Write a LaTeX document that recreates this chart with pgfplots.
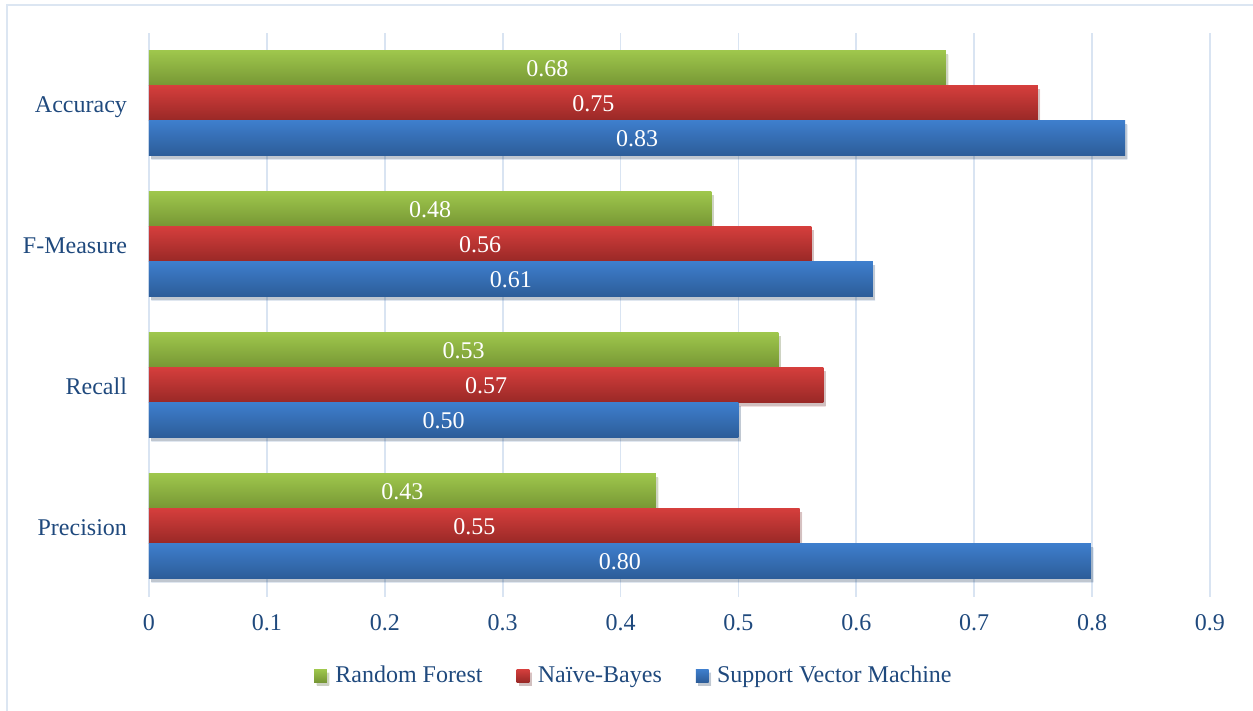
\documentclass[border=0pt]{standalone}
\usepackage{fontspec}
\setmainfont{Liberation Serif}
\usepackage{pgfplots}
\pgfplotsset{compat=1.18}
\usetikzlibrary{shadows}

\definecolor{txt}{RGB}{31,73,125}
\definecolor{gridc}{RGB}{217,228,242}
\definecolor{frame}{RGB}{220,230,242}
\definecolor{rfTop}{RGB}{158,198,76}
\definecolor{rfBot}{RGB}{118,150,52}
\definecolor{nbTop}{RGB}{212,62,60}
\definecolor{nbBot}{RGB}{152,40,38}
\definecolor{svTop}{RGB}{62,126,204}
\definecolor{svBot}{RGB}{44,92,152}

% one style per classifier; each bar is its own plot so the gradient runs over a single bar
\pgfplotsset{
  barshadow/.style={drop shadow={shadow xshift=1.2pt, shadow yshift=-1.6pt, opacity=0.15, fill=black}},
  rf/.style={draw=none, top color=rfTop, bottom color=rfBot, bar shift=17.5pt, barshadow},
  nb/.style={draw=none, top color=nbTop, bottom color=nbBot, bar shift=0pt, barshadow},
  sv/.style={draw=none, top color=svTop, bottom color=svBot, bar shift=-17.5pt, barshadow},
}

\begin{document}
\begin{tikzpicture}
\begin{axis}[
  name=ax,
  x=589.4pt, y=70.5pt,
  xmin=0, xmax=0.9, ymin=-0.5, ymax=3.5,
  xbar, bar width=17.5pt,
  xtick={0,0.1,0.2,0.3,0.4,0.5,0.6,0.7,0.8,0.9},
  xticklabels={0,0.1,0.2,0.3,0.4,0.5,0.6,0.7,0.8,0.9},
  ytick={0,1,2,3},
  yticklabels={Precision,Recall,F-Measure,Accuracy},
  xmajorgrids, ymajorgrids=false,
  grid style={gridc, line width=0.9pt},
  axis line style={draw=none},
  major tick length=0pt,
  tick label style={font=\fontsize{12}{14}\selectfont, text=txt},
  xticklabel style={anchor=center, yshift=-13pt},
  yticklabel style={anchor=base east, xshift=-7.5pt, yshift=-4.6pt},
  /pgf/number format/assume math mode=true,
  nodes near coords,
  visualization depends on=rawx \as \rawxval,
  every node near coord/.append style={anchor=center, text=white,
    font=\fontsize{12}{14}\selectfont, xshift=-\rawxval*294.7pt,
    /pgf/number format/fixed, /pgf/number format/fixed zerofill,
    /pgf/number format/precision=2},
  legend image code/.code={%
    \path[barshadow/.style={}, #1, draw=none] (0pt,-3.2pt) rectangle (6.4pt,3.2pt);
    \path (8.6pt,0pt);},
  legend style={draw=none, fill=none, legend columns=-1,
    at={(0.458,-0.140)}, anchor=center,
    font=\fontsize{12}{14}\selectfont, text=txt,
    /tikz/every even column/.append style={column sep=15pt},
    inner sep=0pt},
]
% Accuracy
\addplot[rf] coordinates {(0.676,3)};
\addplot[nb] coordinates {(0.754,3)};
\addplot[sv] coordinates {(0.828,3)};
% F-Measure
\addplot[rf, forget plot] coordinates {(0.477,2)};
\addplot[nb, forget plot] coordinates {(0.562,2)};
\addplot[sv, forget plot] coordinates {(0.614,2)};
% Recall
\addplot[rf, forget plot] coordinates {(0.534,1)};
\addplot[nb, forget plot] coordinates {(0.572,1)};
\addplot[sv, forget plot] coordinates {(0.500,1)};
% Precision
\addplot[rf, forget plot] coordinates {(0.430,0)};
\addplot[nb, forget plot] coordinates {(0.552,0)};
\addplot[sv, forget plot] coordinates {(0.799,0)};
\legend{Random Forest, Naïve-Bayes, Support Vector Machine}
\end{axis}
\draw[frame, line width=1pt] ([shift={(-71pt,-57pt)}]ax.south west)
  -- ([shift={(-71pt,296pt)}]ax.south west)
  -- ([shift={(552pt,296pt)}]ax.south west);
\pgfresetboundingbox
\path[use as bounding box] ([shift={(-74.5pt,-57pt)}]ax.south west)
  rectangle ([shift={(552pt,298.5pt)}]ax.south west);
\end{tikzpicture}
\end{document}
